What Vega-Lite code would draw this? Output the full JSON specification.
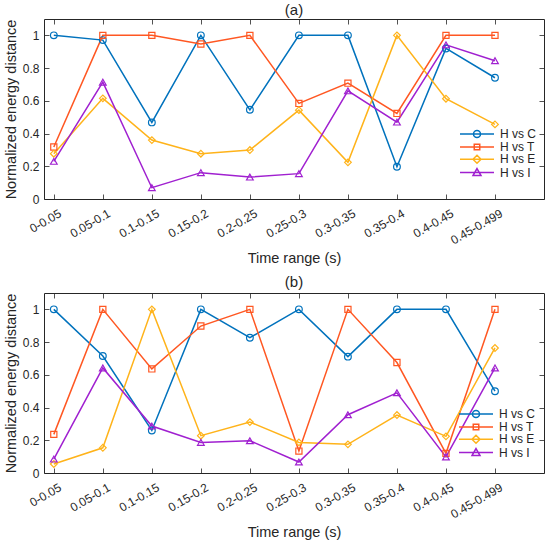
{
  "$schema": "https://vega.github.io/schema/vega-lite/v6.json",
  "background": "white",
  "autosize": {"type": "pad"},
  "padding": {"left": 2, "top": 2, "right": 5, "bottom": 2},
  "bounds": "flush",
  "spacing": 94,
  "config": {
    "font": "Liberation Sans",
    "view": {"stroke": "#262626", "strokeWidth": 1},
    "axis": {
      "grid": false,
      "domain": false,
      "tickSize": -5,
      "tickColor": "#262626",
      "tickWidth": 0.8,
      "labelColor": "#262626",
      "titleColor": "#262626",
      "labelFontSize": 12,
      "titleFontSize": 14.5,
      "titleFontWeight": "normal",
      "labelFlush": false
    },
    "title": {"fontSize": 15, "fontWeight": "normal", "color": "#262626"},
    "legend": {"labelColor": "#262626", "labelFontSize": 12},
    "point": {"filled": false, "size": 45, "strokeWidth": 1.2, "opacity": 1}
  },
  "datasets": {
    "d": [
      {"panel": "a", "t": "0-0.05", "H vs C": 1, "H vs T": 0.318, "H vs E": 0.277, "H vs I": 0.23},
      {"panel": "a", "t": "0.05-0.1", "H vs C": 0.971, "H vs T": 1, "H vs E": 0.615, "H vs I": 0.714},
      {"panel": "a", "t": "0.1-0.15", "H vs C": 0.468, "H vs T": 1, "H vs E": 0.36, "H vs I": 0.069},
      {"panel": "a", "t": "0.15-0.2", "H vs C": 1, "H vs T": 0.947, "H vs E": 0.277, "H vs I": 0.161},
      {"panel": "a", "t": "0.2-0.25", "H vs C": 0.545, "H vs T": 1, "H vs E": 0.299, "H vs I": 0.134},
      {"panel": "a", "t": "0.25-0.3", "H vs C": 1, "H vs T": 0.584, "H vs E": 0.543, "H vs I": 0.155},
      {"panel": "a", "t": "0.3-0.35", "H vs C": 1, "H vs T": 0.708, "H vs E": 0.224, "H vs I": 0.661},
      {"panel": "a", "t": "0.35-0.4", "H vs C": 0.197, "H vs T": 0.523, "H vs E": 1, "H vs I": 0.47},
      {"panel": "a", "t": "0.4-0.45", "H vs C": 0.92, "H vs T": 1, "H vs E": 0.613, "H vs I": 0.942},
      {"panel": "a", "t": "0.45-0.499", "H vs C": 0.741, "H vs T": 1, "H vs E": 0.456, "H vs I": 0.845},
      {"panel": "b", "t": "0-0.05", "H vs C": 1, "H vs T": 0.236, "H vs E": 0.055, "H vs I": 0.085},
      {"panel": "b", "t": "0.05-0.1", "H vs C": 0.715, "H vs T": 1, "H vs E": 0.154, "H vs I": 0.642},
      {"panel": "b", "t": "0.1-0.15", "H vs C": 0.26, "H vs T": 0.636, "H vs E": 1, "H vs I": 0.287},
      {"panel": "b", "t": "0.15-0.2", "H vs C": 1, "H vs T": 0.898, "H vs E": 0.228, "H vs I": 0.187},
      {"panel": "b", "t": "0.2-0.25", "H vs C": 0.827, "H vs T": 1, "H vs E": 0.311, "H vs I": 0.197},
      {"panel": "b", "t": "0.25-0.3", "H vs C": 1, "H vs T": 0.134, "H vs E": 0.187, "H vs I": 0.067},
      {"panel": "b", "t": "0.3-0.35", "H vs C": 0.711, "H vs T": 1, "H vs E": 0.175, "H vs I": 0.356},
      {"panel": "b", "t": "0.35-0.4", "H vs C": 1, "H vs T": 0.675, "H vs E": 0.354, "H vs I": 0.49},
      {"panel": "b", "t": "0.4-0.45", "H vs C": 1, "H vs T": 0.12, "H vs E": 0.224, "H vs I": 0.098},
      {"panel": "b", "t": "0.45-0.499", "H vs C": 0.5, "H vs T": 1, "H vs E": 0.764, "H vs I": 0.642}
    ]
  },
  "resolve": {"scale": {"color": "independent"}, "legend": {"color": "independent"}},
  "vconcat": [
    {
      "title": {"text": "(a)", "offset": 1},
      "width": 500,
      "height": 180,
      "data": {"name": "d"},
      "transform": [
        {"filter": "datum.panel == 'a'"},
        {"fold": ["H vs C", "H vs T", "H vs E", "H vs I"], "as": ["series", "value"]}
      ],
      "resolve": {"axis": {"x": "independent", "y": "independent"}},
      "layer": [
        {
          "mark": {"type": "line", "strokeWidth": 1.5},
          "encoding": {
            "x": {"field": "t", "type": "ordinal", "sort": null, "scale": {"type": "point", "padding": 0.6, "align": 0.1667},
                  "axis": {"orient": "bottom", "title": "Time range (s)", "labelAngle": -30, "labelAlign": "right", "labelBaseline": "middle", "labelOffset": 6, "labelPadding": 18, "titlePadding": 6}},
            "y": {"field": "value", "type": "quantitative", "scale": {"domain": [0, 1.1], "nice": false},
                  "axis": {"orient": "left", "title": "Normalized energy distance", "values": [0, 0.2, 0.4, 0.6, 0.8, 1], "format": "~g", "labelPadding": 10, "titlePadding": 4}},
            "color": {"field": "series", "type": "nominal",
                      "scale": {"domain": ["H vs C", "H vs T", "H vs E", "H vs I"], "range": ["#0072BD", "#FF5722", "#FFB31A", "#A020D0"]},
                      "legend": {"title": null, "orient": "none", "legendX": 427, "legendY": 109, "padding": 0, "labelOffset": 17, "symbolSize": 100, "symbolStrokeWidth": 1.5, "rowPadding": -0.7,
                                 "encode": {"symbols": {"update": {"shape": {"signal": "datum.value == 'H vs C' ? 'M-3.4,0H3.4M0.7,0A0.7,0.7,0,1,1,-0.7,0A0.7,0.7,0,1,1,0.7,0' : datum.value == 'H vs T' ? 'M-3.4,0H3.4M-0.55,-0.55H0.55V0.55H-0.55Z' : datum.value == 'H vs E' ? 'M-3.4,0H3.4M0,-0.8L0.8,0L0,0.8L-0.8,0Z' : 'M-3.4,0H3.4M0,-0.8L0.8,0.6L-0.8,0.6Z'"}, "fill": {"value": "transparent"}}}}}},
            "detail": {"field": "series"}
          }
        },
        {
          "transform": [{"filter": "datum.series == 'H vs C'"}],
          "mark": {"type": "point", "shape": "circle"},
          "encoding": {
            "x": {"field": "t", "type": "ordinal", "sort": null, "scale": {"type": "point", "padding": 0.6, "align": 0.1667},
                  "axis": {"orient": "top", "title": null, "labels": false}},
            "y": {"field": "value", "type": "quantitative", "scale": {"domain": [0, 1.1], "nice": false},
                  "axis": {"orient": "right", "title": null, "labels": false, "values": [0, 0.2, 0.4, 0.6, 0.8, 1]}},
            "color": {"field": "series", "type": "nominal",
                      "scale": {"domain": ["H vs C", "H vs T", "H vs E", "H vs I"], "range": ["#0072BD", "#FF5722", "#FFB31A", "#A020D0"]},
                      "legend": {"title": null, "orient": "none", "legendX": 427, "legendY": 109, "padding": 0, "labelOffset": 17, "symbolSize": 100, "symbolStrokeWidth": 1.5, "rowPadding": -0.7,
                                 "encode": {"symbols": {"update": {"shape": {"signal": "datum.value == 'H vs C' ? 'M-3.4,0H3.4M0.7,0A0.7,0.7,0,1,1,-0.7,0A0.7,0.7,0,1,1,0.7,0' : datum.value == 'H vs T' ? 'M-3.4,0H3.4M-0.55,-0.55H0.55V0.55H-0.55Z' : datum.value == 'H vs E' ? 'M-3.4,0H3.4M0,-0.8L0.8,0L0,0.8L-0.8,0Z' : 'M-3.4,0H3.4M0,-0.8L0.8,0.6L-0.8,0.6Z'"}, "fill": {"value": "transparent"}}}}}}
          }
        },
        {
          "transform": [{"filter": "datum.series == 'H vs T'"}],
          "mark": {"type": "point", "shape": "square", "size": 38},
          "encoding": {
            "x": {"field": "t", "type": "ordinal", "sort": null, "scale": {"type": "point", "padding": 0.6, "align": 0.1667}, "axis": null},
            "y": {"field": "value", "type": "quantitative", "scale": {"domain": [0, 1.1], "nice": false}, "axis": null},
            "color": {"field": "series", "type": "nominal",
                      "scale": {"domain": ["H vs C", "H vs T", "H vs E", "H vs I"], "range": ["#0072BD", "#FF5722", "#FFB31A", "#A020D0"]},
                      "legend": {"title": null, "orient": "none", "legendX": 427, "legendY": 109, "padding": 0, "labelOffset": 17, "symbolSize": 100, "symbolStrokeWidth": 1.5, "rowPadding": -0.7,
                                 "encode": {"symbols": {"update": {"shape": {"signal": "datum.value == 'H vs C' ? 'M-3.4,0H3.4M0.7,0A0.7,0.7,0,1,1,-0.7,0A0.7,0.7,0,1,1,0.7,0' : datum.value == 'H vs T' ? 'M-3.4,0H3.4M-0.55,-0.55H0.55V0.55H-0.55Z' : datum.value == 'H vs E' ? 'M-3.4,0H3.4M0,-0.8L0.8,0L0,0.8L-0.8,0Z' : 'M-3.4,0H3.4M0,-0.8L0.8,0.6L-0.8,0.6Z'"}, "fill": {"value": "transparent"}}}}}}
          }
        },
        {
          "transform": [{"filter": "datum.series == 'H vs E'"}],
          "mark": {"type": "point", "shape": "diamond"},
          "encoding": {
            "x": {"field": "t", "type": "ordinal", "sort": null, "scale": {"type": "point", "padding": 0.6, "align": 0.1667}, "axis": null},
            "y": {"field": "value", "type": "quantitative", "scale": {"domain": [0, 1.1], "nice": false}, "axis": null},
            "color": {"field": "series", "type": "nominal",
                      "scale": {"domain": ["H vs C", "H vs T", "H vs E", "H vs I"], "range": ["#0072BD", "#FF5722", "#FFB31A", "#A020D0"]},
                      "legend": {"title": null, "orient": "none", "legendX": 427, "legendY": 109, "padding": 0, "labelOffset": 17, "symbolSize": 100, "symbolStrokeWidth": 1.5, "rowPadding": -0.7,
                                 "encode": {"symbols": {"update": {"shape": {"signal": "datum.value == 'H vs C' ? 'M-3.4,0H3.4M0.7,0A0.7,0.7,0,1,1,-0.7,0A0.7,0.7,0,1,1,0.7,0' : datum.value == 'H vs T' ? 'M-3.4,0H3.4M-0.55,-0.55H0.55V0.55H-0.55Z' : datum.value == 'H vs E' ? 'M-3.4,0H3.4M0,-0.8L0.8,0L0,0.8L-0.8,0Z' : 'M-3.4,0H3.4M0,-0.8L0.8,0.6L-0.8,0.6Z'"}, "fill": {"value": "transparent"}}}}}}
          }
        },
        {
          "transform": [{"filter": "datum.series == 'H vs I'"}],
          "mark": {"type": "point", "shape": "triangle-up"},
          "encoding": {
            "x": {"field": "t", "type": "ordinal", "sort": null, "scale": {"type": "point", "padding": 0.6, "align": 0.1667}, "axis": null},
            "y": {"field": "value", "type": "quantitative", "scale": {"domain": [0, 1.1], "nice": false}, "axis": null},
            "color": {"field": "series", "type": "nominal",
                      "scale": {"domain": ["H vs C", "H vs T", "H vs E", "H vs I"], "range": ["#0072BD", "#FF5722", "#FFB31A", "#A020D0"]},
                      "legend": {"title": null, "orient": "none", "legendX": 427, "legendY": 109, "padding": 0, "labelOffset": 17, "symbolSize": 100, "symbolStrokeWidth": 1.5, "rowPadding": -0.7,
                                 "encode": {"symbols": {"update": {"shape": {"signal": "datum.value == 'H vs C' ? 'M-3.4,0H3.4M0.7,0A0.7,0.7,0,1,1,-0.7,0A0.7,0.7,0,1,1,0.7,0' : datum.value == 'H vs T' ? 'M-3.4,0H3.4M-0.55,-0.55H0.55V0.55H-0.55Z' : datum.value == 'H vs E' ? 'M-3.4,0H3.4M0,-0.8L0.8,0L0,0.8L-0.8,0Z' : 'M-3.4,0H3.4M0,-0.8L0.8,0.6L-0.8,0.6Z'"}, "fill": {"value": "transparent"}}}}}}
          }
        }
      ]
    },
    {
      "title": {"text": "(b)", "offset": 3},
      "width": 500,
      "height": 180,
      "data": {"name": "d"},
      "transform": [
        {"filter": "datum.panel == 'b'"},
        {"fold": ["H vs C", "H vs T", "H vs E", "H vs I"], "as": ["series", "value"]}
      ],
      "resolve": {"axis": {"x": "independent", "y": "independent"}},
      "layer": [
        {
          "mark": {"type": "line", "strokeWidth": 1.5},
          "encoding": {
            "x": {"field": "t", "type": "ordinal", "sort": null, "scale": {"type": "point", "padding": 0.6, "align": 0.1667},
                  "axis": {"orient": "bottom", "title": "Time range (s)", "labelAngle": -30, "labelAlign": "right", "labelBaseline": "middle", "labelOffset": 6, "labelPadding": 18, "titlePadding": 6}},
            "y": {"field": "value", "type": "quantitative", "scale": {"domain": [0, 1.1], "nice": false},
                  "axis": {"orient": "left", "title": "Normalized energy distance", "values": [0, 0.2, 0.4, 0.6, 0.8, 1], "format": "~g", "labelPadding": 10, "titlePadding": 4}},
            "color": {"field": "series", "type": "nominal",
                      "scale": {"domain": ["H vs C", "H vs T", "H vs E", "H vs I"], "range": ["#0072BD", "#FF5722", "#FFB31A", "#A020D0"]},
                      "legend": {"title": null, "orient": "none", "legendX": 426, "legendY": 115, "padding": 0, "labelOffset": 17, "symbolSize": 100, "symbolStrokeWidth": 1.5, "rowPadding": -0.7,
                                 "encode": {"symbols": {"update": {"shape": {"signal": "datum.value == 'H vs C' ? 'M-3.4,0H3.4M0.7,0A0.7,0.7,0,1,1,-0.7,0A0.7,0.7,0,1,1,0.7,0' : datum.value == 'H vs T' ? 'M-3.4,0H3.4M-0.55,-0.55H0.55V0.55H-0.55Z' : datum.value == 'H vs E' ? 'M-3.4,0H3.4M0,-0.8L0.8,0L0,0.8L-0.8,0Z' : 'M-3.4,0H3.4M0,-0.8L0.8,0.6L-0.8,0.6Z'"}, "fill": {"value": "transparent"}}}}}},
            "detail": {"field": "series"}
          }
        },
        {
          "transform": [{"filter": "datum.series == 'H vs C'"}],
          "mark": {"type": "point", "shape": "circle"},
          "encoding": {
            "x": {"field": "t", "type": "ordinal", "sort": null, "scale": {"type": "point", "padding": 0.6, "align": 0.1667},
                  "axis": {"orient": "top", "title": null, "labels": false}},
            "y": {"field": "value", "type": "quantitative", "scale": {"domain": [0, 1.1], "nice": false},
                  "axis": {"orient": "right", "title": null, "labels": false, "values": [0, 0.2, 0.4, 0.6, 0.8, 1]}},
            "color": {"field": "series", "type": "nominal",
                      "scale": {"domain": ["H vs C", "H vs T", "H vs E", "H vs I"], "range": ["#0072BD", "#FF5722", "#FFB31A", "#A020D0"]},
                      "legend": {"title": null, "orient": "none", "legendX": 426, "legendY": 115, "padding": 0, "labelOffset": 17, "symbolSize": 100, "symbolStrokeWidth": 1.5, "rowPadding": -0.7,
                                 "encode": {"symbols": {"update": {"shape": {"signal": "datum.value == 'H vs C' ? 'M-3.4,0H3.4M0.7,0A0.7,0.7,0,1,1,-0.7,0A0.7,0.7,0,1,1,0.7,0' : datum.value == 'H vs T' ? 'M-3.4,0H3.4M-0.55,-0.55H0.55V0.55H-0.55Z' : datum.value == 'H vs E' ? 'M-3.4,0H3.4M0,-0.8L0.8,0L0,0.8L-0.8,0Z' : 'M-3.4,0H3.4M0,-0.8L0.8,0.6L-0.8,0.6Z'"}, "fill": {"value": "transparent"}}}}}}
          }
        },
        {
          "transform": [{"filter": "datum.series == 'H vs T'"}],
          "mark": {"type": "point", "shape": "square", "size": 38},
          "encoding": {
            "x": {"field": "t", "type": "ordinal", "sort": null, "scale": {"type": "point", "padding": 0.6, "align": 0.1667}, "axis": null},
            "y": {"field": "value", "type": "quantitative", "scale": {"domain": [0, 1.1], "nice": false}, "axis": null},
            "color": {"field": "series", "type": "nominal",
                      "scale": {"domain": ["H vs C", "H vs T", "H vs E", "H vs I"], "range": ["#0072BD", "#FF5722", "#FFB31A", "#A020D0"]},
                      "legend": {"title": null, "orient": "none", "legendX": 426, "legendY": 115, "padding": 0, "labelOffset": 17, "symbolSize": 100, "symbolStrokeWidth": 1.5, "rowPadding": -0.7,
                                 "encode": {"symbols": {"update": {"shape": {"signal": "datum.value == 'H vs C' ? 'M-3.4,0H3.4M0.7,0A0.7,0.7,0,1,1,-0.7,0A0.7,0.7,0,1,1,0.7,0' : datum.value == 'H vs T' ? 'M-3.4,0H3.4M-0.55,-0.55H0.55V0.55H-0.55Z' : datum.value == 'H vs E' ? 'M-3.4,0H3.4M0,-0.8L0.8,0L0,0.8L-0.8,0Z' : 'M-3.4,0H3.4M0,-0.8L0.8,0.6L-0.8,0.6Z'"}, "fill": {"value": "transparent"}}}}}}
          }
        },
        {
          "transform": [{"filter": "datum.series == 'H vs E'"}],
          "mark": {"type": "point", "shape": "diamond"},
          "encoding": {
            "x": {"field": "t", "type": "ordinal", "sort": null, "scale": {"type": "point", "padding": 0.6, "align": 0.1667}, "axis": null},
            "y": {"field": "value", "type": "quantitative", "scale": {"domain": [0, 1.1], "nice": false}, "axis": null},
            "color": {"field": "series", "type": "nominal",
                      "scale": {"domain": ["H vs C", "H vs T", "H vs E", "H vs I"], "range": ["#0072BD", "#FF5722", "#FFB31A", "#A020D0"]},
                      "legend": {"title": null, "orient": "none", "legendX": 426, "legendY": 115, "padding": 0, "labelOffset": 17, "symbolSize": 100, "symbolStrokeWidth": 1.5, "rowPadding": -0.7,
                                 "encode": {"symbols": {"update": {"shape": {"signal": "datum.value == 'H vs C' ? 'M-3.4,0H3.4M0.7,0A0.7,0.7,0,1,1,-0.7,0A0.7,0.7,0,1,1,0.7,0' : datum.value == 'H vs T' ? 'M-3.4,0H3.4M-0.55,-0.55H0.55V0.55H-0.55Z' : datum.value == 'H vs E' ? 'M-3.4,0H3.4M0,-0.8L0.8,0L0,0.8L-0.8,0Z' : 'M-3.4,0H3.4M0,-0.8L0.8,0.6L-0.8,0.6Z'"}, "fill": {"value": "transparent"}}}}}}
          }
        },
        {
          "transform": [{"filter": "datum.series == 'H vs I'"}],
          "mark": {"type": "point", "shape": "triangle-up"},
          "encoding": {
            "x": {"field": "t", "type": "ordinal", "sort": null, "scale": {"type": "point", "padding": 0.6, "align": 0.1667}, "axis": null},
            "y": {"field": "value", "type": "quantitative", "scale": {"domain": [0, 1.1], "nice": false}, "axis": null},
            "color": {"field": "series", "type": "nominal",
                      "scale": {"domain": ["H vs C", "H vs T", "H vs E", "H vs I"], "range": ["#0072BD", "#FF5722", "#FFB31A", "#A020D0"]},
                      "legend": {"title": null, "orient": "none", "legendX": 426, "legendY": 115, "padding": 0, "labelOffset": 17, "symbolSize": 100, "symbolStrokeWidth": 1.5, "rowPadding": -0.7,
                                 "encode": {"symbols": {"update": {"shape": {"signal": "datum.value == 'H vs C' ? 'M-3.4,0H3.4M0.7,0A0.7,0.7,0,1,1,-0.7,0A0.7,0.7,0,1,1,0.7,0' : datum.value == 'H vs T' ? 'M-3.4,0H3.4M-0.55,-0.55H0.55V0.55H-0.55Z' : datum.value == 'H vs E' ? 'M-3.4,0H3.4M0,-0.8L0.8,0L0,0.8L-0.8,0Z' : 'M-3.4,0H3.4M0,-0.8L0.8,0.6L-0.8,0.6Z'"}, "fill": {"value": "transparent"}}}}}}
          }
        }
      ]
    }
  ]
}
